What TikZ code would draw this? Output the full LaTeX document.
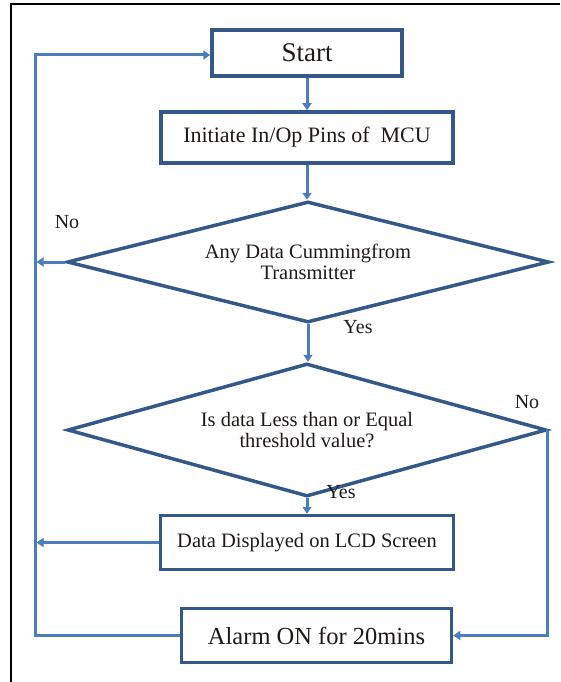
\documentclass[tikz,border=0pt]{standalone}
\usepackage{fontspec}
\setmainfont{Liberation Serif}
\usetikzlibrary{shapes.geometric,arrows.meta}
\definecolor{boxblue}{RGB}{52,88,136}
\definecolor{linkblue}{RGB}{74,126,187}
\definecolor{txt}{RGB}{30,26,24}
\begin{document}
\begin{tikzpicture}[x=1pt,y=-1pt,
  box/.style={draw=boxblue, line width=3.5pt, fill=white, inner sep=0pt, text=txt},
  decision/.style={diamond, shape aspect=4, draw=boxblue, line width=3.5pt, inner sep=0pt, align=center, text=txt, font=\fontsize{20.5}{21.5}\selectfont},
  link/.style={draw=linkblue, line width=3pt, -{Triangle[length=7pt,width=9pt]}},
  lbl/.style={text=txt, font=\fontsize{20}{22}\selectfont, inner sep=0pt}]
\useasboundingbox (0,0) rectangle (560,682);
\draw[black, line width=2.5pt] (11,682) -- (11,4) -- (560,4);

\node[box, minimum width=190pt, minimum height=46pt, font=\fontsize{27}{30}\selectfont] (start) at (307,53) {Start};
\node[box, minimum width=292pt, minimum height=51pt, font=\fontsize{22}{24}\selectfont] (init) at (307,137.5) {Initiate In/Op Pins of\ \ MCU};
\node[decision, minimum width=482pt, minimum height=121pt] (d1) at (308,262) {Any Data Cummingfrom\\Transmitter};
\node[decision, minimum width=479pt, minimum height=133pt] (d2) at (307,430) {Is data Less than or Equal\\threshold value?};
\node[box, minimum width=293pt, minimum height=54pt, font=\fontsize{20.5}{23}\selectfont] (data) at (307,542.5) {Data Displayed on LCD Screen};
\node[box, minimum width=270pt, minimum height=54pt, font=\fontsize{24.5}{27}\selectfont] (alarm) at (316.5,635.5) {Alarm ON for 20mins};

\coordinate (lx) at (35,55);
\coordinate (rx) at (547,430);

\draw[link] (start.south) -- (start.south |- init.north);
\draw[link] (init.south) -- (init.south |- d1.north);
\draw[link] (d1.south) -- (d1.south |- d2.north);
\draw[link] (d2.south) -- (d2.south |- data.north);

\draw[link] (alarm.west) -- (lx |- alarm.west) -- (lx) -- (lx -| start.west);
\draw[link, shorten >=1.5pt] (d1.west) -- (lx |- d1.west);
\draw[link, shorten >=1.5pt] (data.west) -- (lx |- data.west);
\draw[link] (d2.east) -- (rx) -- (rx |- alarm.east) -- (alarm.east);

\node[lbl] (no1) at (67,222) {No};
\node[lbl] (yes1) at (358,327) {Yes};
\node[lbl] (no2) at (527,402) {No};
\node[lbl] (yes2) at (341,492) {Yes};
\end{tikzpicture}
\end{document}
